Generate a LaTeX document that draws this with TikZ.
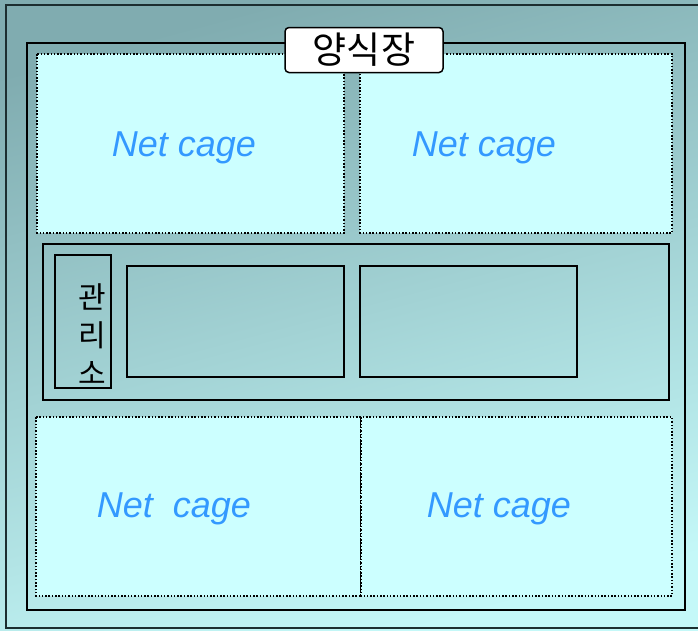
\documentclass[tikz,border=0pt]{standalone}
\usepackage{fontspec}
\setmainfont{Liberation Sans}
\newfontfamily\krfont{Noto Sans CJK KR}
\definecolor{bgdark}{HTML}{80ACB0}
\definecolor{bgmid}{HTML}{A8D8DA}
\definecolor{bglight}{HTML}{C4F8F8}
\definecolor{cagefill}{HTML}{CCFFFF}
\definecolor{netblue}{HTML}{3399FF}
\definecolor{frame}{HTML}{1C2E30}
\begin{document}
\begin{tikzpicture}[x=1pt,y=-1pt,
  cage/.style={draw=black, fill=cagefill, line width=1.5pt, dash pattern=on 1.5pt off 1.8pt},
  boxline/.style={draw=black, line width=1.8pt},
  thinbox/.style={draw=black, line width=1.5pt},
  netlabel/.style={text=netblue, font=\fontsize{36}{42}\selectfont\itshape, inner sep=0pt},
  title/.style={draw=black, fill=white, line width=1.5pt, rounded corners=4pt,
    minimum width=158pt, minimum height=45pt, inner sep=0pt,
    font=\krfont\fontsize{37}{40}\selectfont}]
\useasboundingbox (0,0) rectangle (698,630);
\shade[top color=bgdark, middle color=bgmid, bottom color=bglight, shading angle=15] (0,0) rectangle (698,630);
% outer frame
\draw[draw=frame, line width=2pt] (6,5) rectangle (712,628);
% main farm box
\draw[boxline] (27,43) rectangle (685,610);
% net cages
\draw[cage] (37,54) rectangle (344,233);
\draw[cage] (360,54) rectangle (672,233);
\draw[cage] (36,417) rectangle (361,596);
\draw[cage] (361,417) rectangle (672,596);
% middle section
\draw[thinbox] (43,244) rectangle (669,400);
\draw[thinbox] (55,255) rectangle (111,388);
\draw[thinbox] (127,266) rectangle (344,377);
\draw[thinbox] (360,266) rectangle (577,377);
% labels
\node[title] (farm) at (364,50) {양식장};
\node[font=\krfont\fontsize{30}{38}\selectfont, align=center, inner sep=0pt] (office) at (92,334) {관\\리\\소};
\node[netlabel] (cage1) at (184,148) {Net cage};
\node[netlabel] (cage2) at (484,148) {Net cage};
\node[netlabel] (cage3) at (174,509) {Net\ \ cage};
\node[netlabel] (cage4) at (499,509) {Net cage};
\end{tikzpicture}
\end{document}
